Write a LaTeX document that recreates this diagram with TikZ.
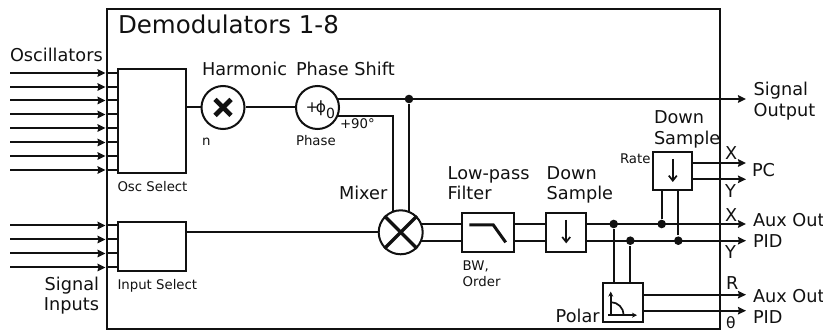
\documentclass[tikz,border=0pt]{standalone}
\usepackage{fontspec}
\setmainfont{DejaVu Sans}
\usetikzlibrary{arrows.meta,backgrounds,calc}
\definecolor{ink}{HTML}{111111}
\tikzset{
  box/.style={draw,fill=white,inner sep=0pt,rectangle},
  circ/.style={draw,fill=white,inner sep=0pt,circle,minimum size=43pt},
  dotnode/.style={circle,fill=ink,draw=none,inner sep=0pt,minimum size=8.6pt},
  big/.style={inner sep=0pt,outer sep=0pt,anchor=base west,font=\fontsize{24.5}{28}\selectfont},
  lab/.style={inner sep=0pt,outer sep=0pt,anchor=base west,align=left,font=\fontsize{17.7}{20.8}\selectfont},
  sm/.style={inner sep=0pt,outer sep=0pt,anchor=base west,align=left,font=\fontsize{13.3}{15.7}\selectfont},
  tip/.style={-{Stealth[length=8pt,width=7.5pt,inset=1pt]}},
  glyph/.style={line width=3.4pt,line cap=butt},
  thin glyph/.style={line width=1.7pt,-{Straight Barb[length=5pt,width=8pt]}},
}
\begin{document}
\begin{tikzpicture}[x=1pt,y=-1pt,color=ink,every path/.style={line width=2pt,color=ink}]
\useasboundingbox (0,0) rectangle (823,331);
% frame and blocks
\node[box,fill=none,minimum width=613.5pt,minimum height=319.5pt] (frame) at (413.25,169.25) {};
\node[box,minimum width=68pt,minimum height=104.5pt] (osc) at (151.5,121.25) {};
\node[box,minimum width=68pt,minimum height=49pt] (inp) at (151.5,246.5) {};
\node[circ] (harm) at (223,107.5) {};
\node[circ] (phase) at (317.5,107.5) {};
\node[circ,minimum size=44pt] (mixer) at (400.7,232.3) {};
\node[box,minimum width=51.7pt,minimum height=39.3pt] (lpf) at (487.9,232.35) {};
\node[box,minimum width=39.7pt,minimum height=39.3pt] (ds1) at (566.2,232.35) {};
\node[box,minimum width=39pt,minimum height=38.6pt] (ds2) at (672.8,171) {};
\node[box,minimum width=39.4pt,minimum height=39.3pt] (pol) at (623,302.65) {};
% free ends and corners
\coordinate (so) at (746,99);
\coordinate (c90) at (392.7,115.7);
\coordinate (xa) at (746,224);
\coordinate (ya) at (746,240.7);
\coordinate (pcx) at (746,163);
\coordinate (pcy) at (746,179.3);
\coordinate (rr) at (746,294.7);
\coordinate (tt) at (746,310.7);
% junctions
\node[dotnode] (j1) at (409,99) {};
\node[dotnode] (j2) at (613.7,224) {};
\node[dotnode] (j3) at (630.3,240.7) {};
\node[dotnode] (j4) at (661.7,224) {};
\node[dotnode] (j5) at (678.3,240.7) {};
% connectors
\begin{scope}[on background layer]
\foreach \i/\yy in {1/73,2/87,3/100.5,4/114.5,5/128,6/142.5,7/156,8/170}{
  \coordinate (oi\i) at (10,\yy);
  \draw[tip] (oi\i) -- (oi\i -| frame.west);
  \draw (oi\i -| frame.west) -- (oi\i -| osc.west);
}
\foreach \i/\yy in {1/225.5,2/239.5,3/253.5,4/267.5}{
  \coordinate (si\i) at (10,\yy);
  \draw[tip] (si\i) -- (si\i -| frame.west);
  \draw (si\i -| frame.west) -- (si\i -| inp.west);
}
\draw (osc.east |- harm) -- (harm);
\draw (harm) -- (phase);
\draw (inp.east |- mixer) -- (mixer);
\draw[tip] (so -| phase) -- (so);
\draw (j1) -- (j1 |- mixer);
\draw (c90 -| phase) -- (c90) -- (c90 |- mixer);
\draw[tip] (xa -| mixer) -- (xa);
\draw[tip] (ya -| mixer) -- (ya);
\draw (j2) -- (j2 |- pol.north);
\draw (j3) -- (j3 |- pol.north);
\draw (j4) -- (j4 |- ds2.south);
\draw (j5) -- (j5 |- ds2.south);
\draw[tip] (pcx -| ds2) -- (pcx);
\draw[tip] (pcy -| ds2) -- (pcy);
\draw[tip] (rr -| pol) -- (rr);
\draw[tip] (tt -| pol) -- (tt);
\end{scope}
% block glyphs
\draw[line width=4.6pt] ($(harm)+(-8,-8)$) -- ($(harm)+(8,8)$);
\draw[line width=4.6pt] ($(harm)+(-8,8)$) -- ($(harm)+(8,-8)$);
\draw[glyph] (mixer.45) -- (mixer.225);
\draw[glyph] (mixer.135) -- (mixer.315);
\draw[line width=3pt] ($(lpf)+(-18.6,-7.4)$) -- ($(lpf)+(5.4,-7.4)$) -- ($(lpf)+(17.8,10)$);
\draw[thin glyph] ($(ds1)+(0,-12.5)$) -- ($(ds1)+(0,11)$);
\draw[thin glyph] ($(ds2)+(0,-12)$) -- ($(ds2)+(0,11)$);
\draw[line width=1.7pt,{Stealth[length=5pt,width=5pt]}-] ($(pol)+(-12.3,-11)$) -- ($(pol)+(-12.3,12.5)$);
\draw[line width=1.7pt,-{Stealth[length=5pt,width=5pt]}] ($(pol)+(-15,12.5)$) -- ($(pol)+(14,12.5)$);
\draw[line width=1.7pt] ($(pol)+(-12.3,-0.5)$) arc[start angle=-90,end angle=0,radius=13];
% labels
\node[big] (t0) at (118,34) {Demodulators 1-8};
\node[lab] (t1) at (10,62) {Oscillators};
\node[lab] (t2) at (202,76) {Harmonic};
\node[lab] (t3) at (296,76) {Phase Shift};
\node[sm] (t4) at (340,129) {+90°};
\node[sm] (t5) at (202,146) {n};
\node[sm] (t6) at (296,146) {Phase};
\node[sm] (t7) at (117.5,192) {Osc Select};
\node[sm] (t8) at (117.5,290) {Input Select};
\node[lab,anchor=base east,align=right] (t9) at (99,311) {Signal\\Inputs};
\node[lab] (t10) at (339,200) {Mixer};
\node[lab] (t11) at (447.7,200) {Low-pass\\Filter};
\node[lab] (t12) at (546.7,200) {Down\\Sample};
\node[lab] (t13) at (654,144.5) {Down\\Sample};
\node[sm] (t14) at (620,163.7) {Rate};
\node[sm] (t15) at (462.7,286.7) {BW,\\Order};
\node[lab] (t16) at (555.7,322.7) {Polar};
\node[lab] (t17) at (753.7,116.8) {Signal\\Output};
\node[lab] (t18) at (752,176.7) {PC};
\node[lab] (t19) at (725,160) {X};
\node[lab] (t20) at (725,198) {Y};
\node[lab] (t21) at (725,221.7) {X};
\node[lab] (t22) at (725,259) {Y};
\node[lab] (t23) at (753,227) {Aux Out};
\node[lab] (t24) at (753,248) {PID};
\node[lab] (t25) at (726,290) {R};
\node[lab,font=\fontsize{15.5}{18}\selectfont] (t26) at (726,329) {θ};
\node[lab] (t27) at (753,303) {Aux Out};
\node[lab] (t28) at (753,324) {PID};
\node[sm,font=\fontsize{15.5}{18}\selectfont] (t29) at (305.5,113) {+\kern-2.5pt ϕ\raisebox{-6pt}{\fontsize{14}{16}\selectfont 0}};
\end{tikzpicture}
\end{document}
